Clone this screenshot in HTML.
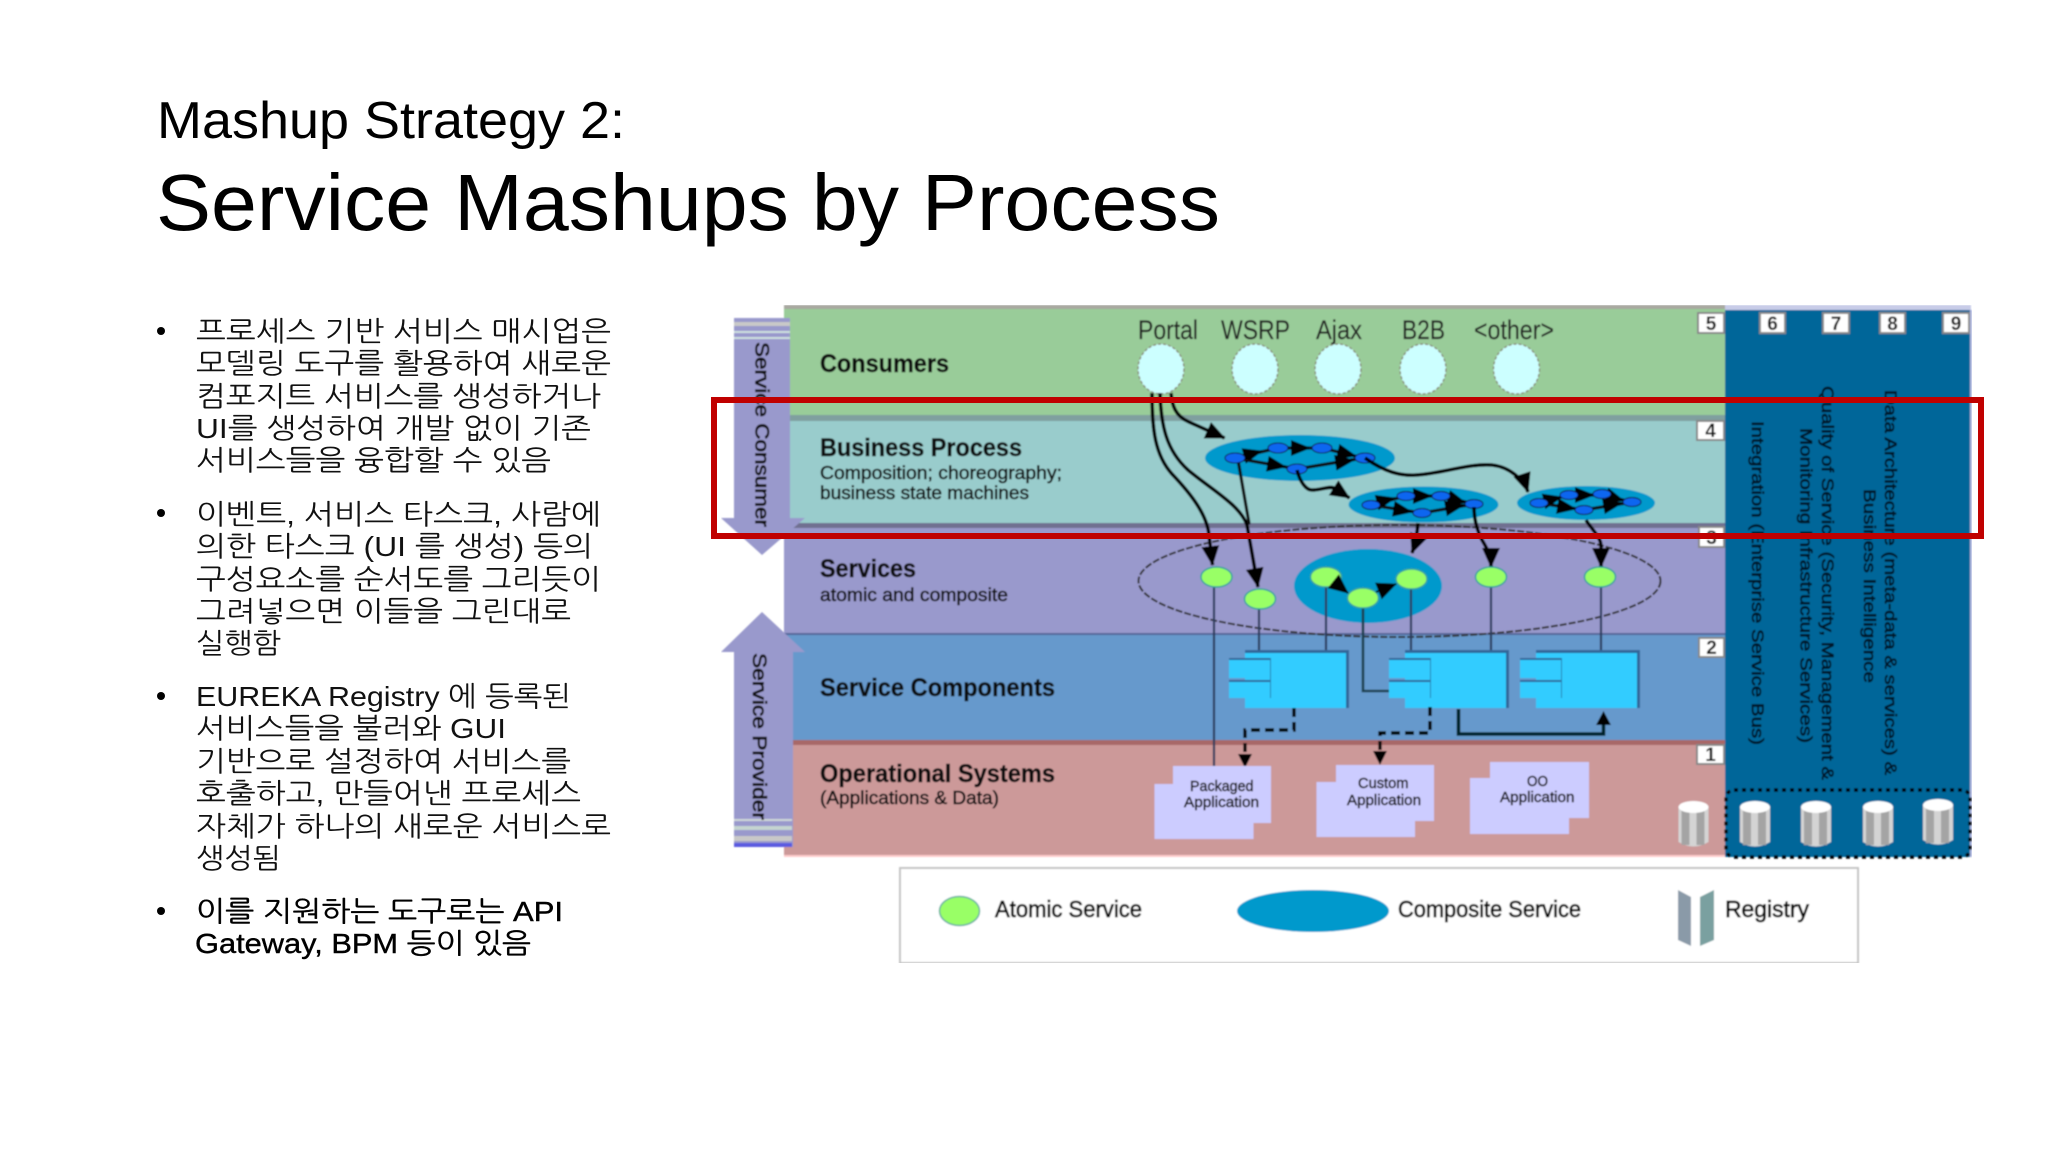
<!DOCTYPE html>
<html lang="ko"><head><meta charset="utf-8"><title>Mashup Strategy 2: Service Mashups by Process</title>
<style>
html,body{margin:0;padding:0;background:#fff;width:2048px;height:1152px;overflow:hidden}
svg{display:block}
text{font-family:"Liberation Sans","NanumGothic","Noto Sans CJK KR",sans-serif}
.b{font-size:28px;fill:#111}
.bb{font-size:28px;fill:#000;stroke:#000;stroke-width:.4}
.h{font-size:25px;font-weight:bold;fill:#0c0c0c;stroke:#0c0c0c;stroke-width:.4}
.s{font-size:18px;fill:#111;stroke:#111;stroke-width:.55}
.t{font-size:27px;fill:#222;stroke:#222;stroke-width:.2}
.a{font-size:15px;fill:#111;stroke:#111;stroke-width:.5}
.n{font-size:19px;font-weight:bold;fill:#111;text-anchor:middle}
.v{font-size:17px;fill:#041428;stroke:#041428;stroke-width:.6}
.l{font-size:23px;fill:#000;stroke:#000;stroke-width:.7}
.k{fill:none;stroke:#0a0a0a;stroke-width:3.2;stroke-linecap:round}
.m{fill:none;stroke:#050505;stroke-width:3.6;marker-end:url(#ah)}
.mm{fill:none;stroke:#0a0a0a;stroke-width:2;marker-end:url(#ahb)}
.sn{fill:#0a66f0;stroke:#113;stroke-width:1}
.gn{fill:#99ff66;stroke:#33a0a0;stroke-width:1.5}
.vl{stroke:#2c3a5c;stroke-width:2.2;fill:none}
.ce{fill:#ccffff;stroke:#887;stroke-width:1.4;stroke-dasharray:3 2}
.nb{fill:#fff;stroke:#888;stroke-width:2}
.app{fill:#ccccff}
</style></head><body>
<svg xmlns="http://www.w3.org/2000/svg" width="2048" height="1152" viewBox="0 0 2048 1152">
<defs>
<marker id="ah" markerUnits="userSpaceOnUse" markerWidth="20" markerHeight="18" refX="19" refY="9" orient="auto"><path d="M0 0L20 9L0 18z" fill="#050505"/></marker>
<marker id="ahb" markerUnits="userSpaceOnUse" markerWidth="20" markerHeight="16" refX="19" refY="8" orient="auto"><path d="M0 0L20 8L0 16z" fill="#050505"/></marker>
<filter id="bl" x="0" y="0" width="100%" height="100%"><feGaussianBlur stdDeviation="0.7"/></filter>
<g id="cyl">
<path d="M0 6V41Q15 50 30 41V6z" fill="#d4d4d4"/>
<rect x="3" y="8" width="8" height="36" fill="#a4a4a4"/>
<rect x="18" y="8" width="8" height="36" fill="#a4a4a4"/>
<ellipse cx="15" cy="6" rx="15" ry="6" fill="#fff"/>
</g>
<g id="comp">
<rect x="16" y="-3" width="103" height="4" fill="#336699"/>
<rect x="16" y="0" width="101" height="55" fill="#33ccff"/>
<rect x="117" y="-3" width="3" height="58" fill="#336699"/>
<rect x="0" y="7" width="41" height="18" fill="#33ccff"/>
<rect x="0" y="5" width="41" height="2" fill="#336699"/>
<rect x="0" y="28" width="41" height="17" fill="#33ccff"/>
<rect x="0" y="27" width="41" height="2" fill="#336699"/>
<rect x="41" y="5" width="1" height="40" fill="#2a7fb0"/>
</g>
</defs>

<rect width="2048" height="1152" fill="#fff"/>

<!-- Title -->
<text x="157" y="138" font-size="52" fill="#000" textLength="468" lengthAdjust="spacingAndGlyphs">Mashup Strategy 2:</text>
<text x="156" y="230" font-size="80" fill="#000" textLength="1064" lengthAdjust="spacingAndGlyphs">Service Mashups by Process</text>

<!-- Bullets -->
<g fill="#000"><circle cx="161" cy="331" r="4"/><circle cx="161" cy="513" r="4"/><circle cx="161" cy="696" r="4"/><circle cx="161" cy="911" r="4"/></g>
<text class="b" x="196" y="341" textLength="415" lengthAdjust="spacingAndGlyphs">프로세스 기반 서비스 매시업은</text>
<text class="b" x="196" y="373" textLength="415" lengthAdjust="spacingAndGlyphs">모델링 도구를 활용하여 새로운</text>
<text class="b" x="196" y="406" textLength="405" lengthAdjust="spacingAndGlyphs">컴포지트 서비스를 생성하거나</text>
<text class="b" x="196" y="438" textLength="395" lengthAdjust="spacingAndGlyphs">UI를 생성하여 개발 없이 기존</text>
<text class="b" x="196" y="470" textLength="355" lengthAdjust="spacingAndGlyphs">서비스들을 융합할 수 있음</text>
<text class="b" x="196" y="524" textLength="405" lengthAdjust="spacingAndGlyphs">이벤트, 서비스 타스크, 사람에</text>
<text class="b" x="196" y="556" textLength="397" lengthAdjust="spacingAndGlyphs">의한 타스크 (UI 를 생성) 등의</text>
<text class="b" x="196" y="589" textLength="405" lengthAdjust="spacingAndGlyphs">구성요소를 순서도를 그리듯이</text>
<text class="b" x="196" y="621" textLength="375" lengthAdjust="spacingAndGlyphs">그려넣으면 이들을 그린대로</text>
<text class="b" x="196" y="653" textLength="85" lengthAdjust="spacingAndGlyphs">실행함</text>
<text class="b" x="196" y="706" textLength="375" lengthAdjust="spacingAndGlyphs">EUREKA Registry 에 등록된</text>
<text class="b" x="196" y="738" textLength="310" lengthAdjust="spacingAndGlyphs">서비스들을 불러와 GUI</text>
<text class="b" x="196" y="771" textLength="375" lengthAdjust="spacingAndGlyphs">기반으로 설정하여 서비스를</text>
<text class="b" x="196" y="803" textLength="385" lengthAdjust="spacingAndGlyphs">호출하고, 만들어낸 프로세스</text>
<text class="b" x="196" y="836" textLength="415" lengthAdjust="spacingAndGlyphs">자체가 하나의 새로운 서비스로</text>
<text class="b" x="196" y="868" textLength="85" lengthAdjust="spacingAndGlyphs">생성됨</text>
<text class="bb" x="196" y="921" textLength="367" lengthAdjust="spacingAndGlyphs">이를 지원하는 도구로는 API</text>
<text class="bb" x="195" y="953" textLength="336" lengthAdjust="spacingAndGlyphs">Gateway, BPM 등이 있음</text>

<!-- Diagram -->
<g filter="url(#bl)">
<!-- bands -->
<rect x="784" y="305" width="941" height="4" fill="#a8a8a0"/>
<rect x="784" y="309" width="941" height="106" fill="#99cc99"/>
<rect x="784" y="415" width="941" height="6" fill="#7f9f9f"/>
<rect x="784" y="421" width="941" height="102" fill="#99cccc"/>
<rect x="784" y="523" width="941" height="5" fill="#6f6f90"/>
<rect x="784" y="528" width="941" height="105" fill="#9999cc"/>
<rect x="784" y="633" width="941" height="2" fill="#556699"/>
<rect x="784" y="635" width="941" height="105" fill="#6699cc"/>
<rect x="784" y="740" width="941" height="5" fill="#a86868"/>
<rect x="784" y="745" width="941" height="110" fill="#cc9999"/>
<rect x="784" y="855" width="941" height="2" fill="#ffcccc"/>
<!-- right panel -->
<rect x="1725" y="305" width="246" height="5" fill="#c8cce8"/>
<rect x="1725" y="310" width="245" height="547" fill="#006699"/>
<rect x="1970" y="310" width="2" height="547" fill="#b0b8e0"/>

<!-- left arrows -->
<path d="M734 318H790V518H805L762 555L721 518H734z" fill="#9999cc"/>
<rect x="734" y="322" width="56" height="4" fill="#c8c8c8"/>
<rect x="734" y="331" width="56" height="2" fill="#cfe0e0"/>
<rect x="734" y="337" width="56" height="2" fill="#cfe0e0"/>
<path d="M762 612L805 652H793V847H734V652H721z" fill="#9999cc"/>
<rect x="734" y="819" width="58" height="2" fill="#d0d8d8"/>
<rect x="734" y="826" width="58" height="4" fill="#c4d4d0"/>
<rect x="734" y="836" width="58" height="5" fill="#c8c8c8"/>
<rect x="734" y="843" width="58" height="4" fill="#5a5ae0"/>
<text transform="translate(755.5,342) rotate(90)" font-size="19" fill="#111" stroke="#111" stroke-width=".7" textLength="185" lengthAdjust="spacingAndGlyphs">Service Consumer</text>
<text transform="translate(753,653) rotate(90)" font-size="19" fill="#111" stroke="#111" stroke-width=".7" textLength="167" lengthAdjust="spacingAndGlyphs">Service Provider</text>

<!-- band labels -->
<text class="h" x="820" y="372" textLength="129" lengthAdjust="spacingAndGlyphs">Consumers</text>
<text class="h" x="820" y="456" textLength="202" lengthAdjust="spacingAndGlyphs">Business Process</text>
<text class="s" x="820" y="479" textLength="242" lengthAdjust="spacingAndGlyphs">Composition; choreography;</text>
<text class="s" x="820" y="499" textLength="209" lengthAdjust="spacingAndGlyphs">business state machines</text>
<text class="h" x="820" y="577" textLength="96" lengthAdjust="spacingAndGlyphs">Services</text>
<text class="s" x="820" y="601" textLength="188" lengthAdjust="spacingAndGlyphs">atomic and composite</text>
<text class="h" x="820" y="696" textLength="235" lengthAdjust="spacingAndGlyphs">Service Components</text>
<text class="h" x="820" y="782" textLength="235" lengthAdjust="spacingAndGlyphs">Operational Systems</text>
<text class="s" x="820" y="804" textLength="179" lengthAdjust="spacingAndGlyphs">(Applications &amp; Data)</text>

<!-- consumers -->
<text class="t" x="1138" y="339" textLength="60" lengthAdjust="spacingAndGlyphs">Portal</text>
<text class="t" x="1221" y="339" textLength="69" lengthAdjust="spacingAndGlyphs">WSRP</text>
<text class="t" x="1316" y="339" textLength="46" lengthAdjust="spacingAndGlyphs">Ajax</text>
<text class="t" x="1402" y="339" textLength="43" lengthAdjust="spacingAndGlyphs">B2B</text>
<text class="t" x="1474" y="339" textLength="80" lengthAdjust="spacingAndGlyphs">&lt;other&gt;</text>
<ellipse class="ce" cx="1161" cy="369" rx="23" ry="25"/>
<ellipse class="ce" cx="1255" cy="369" rx="23" ry="25"/>
<ellipse class="ce" cx="1338" cy="369" rx="23" ry="25"/>
<ellipse class="ce" cx="1423" cy="369" rx="23" ry="25"/>
<ellipse class="ce" cx="1516.5" cy="369" rx="23" ry="25"/>

<!-- composite ellipses -->
<ellipse cx="1300" cy="458" rx="95" ry="23" fill="#0099cc"/>
<ellipse cx="1423.5" cy="504.5" rx="75" ry="18" fill="#0099cc"/>
<ellipse cx="1586" cy="503" rx="69" ry="17" fill="#0099cc"/>
<ellipse cx="1399.5" cy="581" rx="261" ry="56" fill="none" stroke="#333" stroke-width="2" stroke-dasharray="7 2"/>
<ellipse cx="1368" cy="586" rx="74" ry="37" fill="#0099cc"/>

<!-- vertical service lines -->
<path class="vl" d="M1214 587V768"/>
<path class="vl" d="M1259 608V653"/>
<path class="vl" d="M1326 587V657"/>
<path class="vl" d="M1411 589V653"/>
<path class="vl" d="M1491 587V653"/>
<path class="vl" d="M1601 587V653"/>
<path d="M1363 608V691H1390" fill="none" stroke="#1c4050" stroke-width="2.6"/>

<!-- components -->
<use href="#comp" x="1229" y="653"/>
<use href="#comp" x="1389" y="653"/>
<use href="#comp" x="1520" y="653"/>

<!-- dashed connectors -->
<path d="M1294 708V730H1245V752" fill="none" stroke="#050505" stroke-width="3.4" stroke-dasharray="9 5"/>
<path d="M1238 754H1252L1245 768z" fill="#050505"/>
<path d="M1430 707V733H1380V752" fill="none" stroke="#050505" stroke-width="3.4" stroke-dasharray="9 5"/>
<path d="M1373 751H1387L1380 765z" fill="#050505"/>
<path d="M1458.5 709V734H1603.5V722" fill="none" stroke="#06202c" stroke-width="3.6"/>
<path d="M1596 725H1611L1603.5 711z" fill="#050505"/>

<!-- app boxes -->
<path class="app" d="M1173 766H1271V823H1253.5V839H1154.5V784H1173z"/>
<path class="app" d="M1336 765H1434V821H1415V837H1316.5V782H1336z"/>
<path class="app" d="M1490 762H1589V818H1569V834H1470V778H1490z"/>
<text class="a" x="1190" y="791" textLength="63.5" lengthAdjust="spacingAndGlyphs">Packaged</text>
<text class="a" x="1184" y="807" textLength="75" lengthAdjust="spacingAndGlyphs">Application</text>
<text class="a" x="1358" y="788" textLength="50.5" lengthAdjust="spacingAndGlyphs">Custom</text>
<text class="a" x="1347" y="805" textLength="74" lengthAdjust="spacingAndGlyphs">Application</text>
<text class="a" x="1527" y="786" textLength="21" lengthAdjust="spacingAndGlyphs">OO</text>
<text class="a" x="1500" y="802" textLength="74.5" lengthAdjust="spacingAndGlyphs">Application</text>

<!-- consumer connectors -->
<path class="m" d="M1152 393C1152 430 1155 455 1172 474C1192 495 1207 515 1209 535L1212.5 565"/>
<path class="m" d="M1160 393C1161 425 1166 450 1188 470C1212 490 1240 505 1247 525L1258 587"/>
<path class="m" d="M1171 393C1172 405 1175 416 1189 422L1224.6 438"/>
<path class="k" d="M1238 460L1249 523"/>

<!-- E1 graph -->
<path class="k" d="M1235 458L1278 448H1322L1363 458M1235 458L1297 469L1363 458"/>
<path class="mm" d="M1240 457L1262 451"/><path class="mm" d="M1285 448H1310"/><path class="mm" d="M1322 448L1356 456"/><path class="mm" d="M1240 459L1286 467"/><path class="mm" d="M1300 468L1354 460"/>
<ellipse class="sn" cx="1235" cy="458" rx="10" ry="5"/><ellipse class="sn" cx="1278" cy="448" rx="10" ry="5"/><ellipse class="sn" cx="1322" cy="448" rx="10" ry="5"/><ellipse class="sn" cx="1365" cy="458" rx="10" ry="5"/><ellipse class="sn" cx="1297" cy="469" rx="10" ry="5"/>

<!-- E2 graph -->
<path class="k" d="M1371 505L1406 496H1441L1474 504M1371 505L1422 513L1474 504"/>
<path class="mm" d="M1375 503L1395 498"/><path class="mm" d="M1412 496H1432"/><path class="mm" d="M1442 496L1466 503"/><path class="mm" d="M1377 506L1412 512"/><path class="mm" d="M1426 512L1464 505"/>
<ellipse class="sn" cx="1371" cy="505" rx="9" ry="4.5"/><ellipse class="sn" cx="1406" cy="496" rx="9" ry="4.5"/><ellipse class="sn" cx="1441" cy="496" rx="9" ry="4.5"/><ellipse class="sn" cx="1474" cy="504" rx="9" ry="4.5"/><ellipse class="sn" cx="1422" cy="513" rx="9" ry="4.5"/>

<!-- E3 graph -->
<path class="k" d="M1539 503L1569 495H1602L1632 502M1539 503L1584 510L1632 502"/>
<path class="mm" d="M1545 501L1562 497"/><path class="mm" d="M1574 495H1594"/><path class="mm" d="M1602 494L1624 501"/><path class="mm" d="M1545 504L1576 509"/><path class="mm" d="M1588 509L1622 503"/>
<ellipse class="sn" cx="1539" cy="503" rx="9" ry="4.5"/><ellipse class="sn" cx="1569" cy="495" rx="9" ry="4.5"/><ellipse class="sn" cx="1602" cy="494" rx="9" ry="4.5"/><ellipse class="sn" cx="1632" cy="502" rx="9" ry="4.5"/><ellipse class="sn" cx="1584" cy="510" rx="9" ry="4.5"/>

<!-- process links -->
<path class="m" d="M1365 458C1385 472 1400 476 1416 475C1440 474 1470 463 1492 465C1510 467 1524 480 1528 492"/>
<path class="m" d="M1297 470C1300 482 1306 490 1312 490C1322 490 1328 486 1334 488L1349.5 498"/>
<path class="m" d="M1418 523C1417 535 1415 545 1412 553"/>
<path class="m" d="M1474 507C1474 520 1477 530 1482 540C1488 550 1491 556 1491 567"/>
<path class="m" d="M1586 520C1592 530 1600 536 1601 545V567"/>

<!-- atomic services -->
<ellipse class="gn" cx="1216.5" cy="577" rx="15.5" ry="10"/>
<ellipse class="gn" cx="1260" cy="599" rx="15.5" ry="10"/>
<ellipse class="gn" cx="1326" cy="577" rx="15.5" ry="10" stroke="none"/>
<ellipse class="gn" cx="1363" cy="598" rx="15.5" ry="10" stroke="none"/>
<ellipse class="gn" cx="1411.5" cy="579" rx="15.5" ry="10" stroke="none"/>
<ellipse class="gn" cx="1491" cy="577" rx="15.5" ry="10"/>
<ellipse class="gn" cx="1600" cy="577" rx="15.5" ry="10"/>
<path class="m" d="M1338 585L1348 593" style="stroke-width:2"/>
<path class="m" d="M1376 592L1396 584" style="stroke-width:2"/>

<!-- number boxes -->
<rect class="nb" x="1698" y="313" width="26" height="20"/><text class="n" x="1711" y="330">5</text>
<rect class="nb" x="1760" y="313" width="25" height="20"/><text class="n" x="1772.5" y="330">6</text>
<rect class="nb" x="1823" y="313" width="26" height="20"/><text class="n" x="1836" y="330">7</text>
<rect class="nb" x="1880" y="313" width="25" height="20"/><text class="n" x="1892.5" y="330">8</text>
<rect class="nb" x="1943" y="313" width="26" height="20"/><text class="n" x="1956" y="330">9</text>
<rect class="nb" x="1697" y="421" width="27" height="19"/><text class="n" x="1710.5" y="437">4</text>
<rect class="nb" x="1699" y="527" width="25" height="20"/><text class="n" x="1711.5" y="544">3</text>
<rect class="nb" x="1699" y="638" width="25" height="19"/><text class="n" x="1711.5" y="654">2</text>
<rect class="nb" x="1697" y="745" width="27" height="19"/><text class="n" x="1710.5" y="761">1</text>

<!-- vertical text -->
<text class="v" transform="translate(1752,421) rotate(90)" textLength="324" lengthAdjust="spacingAndGlyphs">Integration (Enterprise Service Bus)</text>
<text class="v" transform="translate(1822,386) rotate(90)" textLength="394" lengthAdjust="spacingAndGlyphs">Quality of Service (Security, Management &amp;</text>
<text class="v" transform="translate(1800.5,428) rotate(90)" textLength="315" lengthAdjust="spacingAndGlyphs">Monitoring Infrastructure Services)</text>
<text class="v" transform="translate(1885,390) rotate(90)" textLength="385" lengthAdjust="spacingAndGlyphs">Data Architecture (meta-data &amp; services) &amp;</text>
<text class="v" transform="translate(1864,489) rotate(90)" textLength="194" lengthAdjust="spacingAndGlyphs">Business Intelligence</text>

<!-- registries -->
<use href="#cyl" x="1678.5" y="801"/>
<use href="#cyl" x="1740" y="801"/>
<use href="#cyl" x="1801" y="801"/>
<use href="#cyl" x="1863" y="801"/>
<use href="#cyl" x="1923" y="799"/>
<rect x="1726" y="790" width="244" height="67" rx="8" fill="none" stroke="#050505" stroke-width="3.4" stroke-dasharray="4 4"/>

<!-- legend -->
<rect x="900" y="868" width="958" height="95" fill="#fff" stroke="#c4c4c4" stroke-width="2"/>
<ellipse cx="959.5" cy="911" rx="20" ry="14.5" fill="#99ff66" stroke="#66b0a0" stroke-width="1.5"/>
<text class="l" x="995" y="917" textLength="147" lengthAdjust="spacingAndGlyphs">Atomic Service</text>
<ellipse cx="1313" cy="911" rx="76" ry="21" fill="#0099cc"/>
<text class="l" x="1398" y="917" textLength="183" lengthAdjust="spacingAndGlyphs">Composite Service</text>
<path d="M1678 890L1691 897V946L1678 940z" fill="#8a9aa8"/>
<path d="M1700 897L1714 890V940L1700 946z" fill="#7aa0a0"/>
<text class="l" x="1725" y="917" textLength="84" lengthAdjust="spacingAndGlyphs">Registry</text>
</g>

<!-- red highlight -->
<rect x="714" y="400" width="1267" height="136" fill="none" stroke="#c00000" stroke-width="6"/>
</svg>
</body></html>
